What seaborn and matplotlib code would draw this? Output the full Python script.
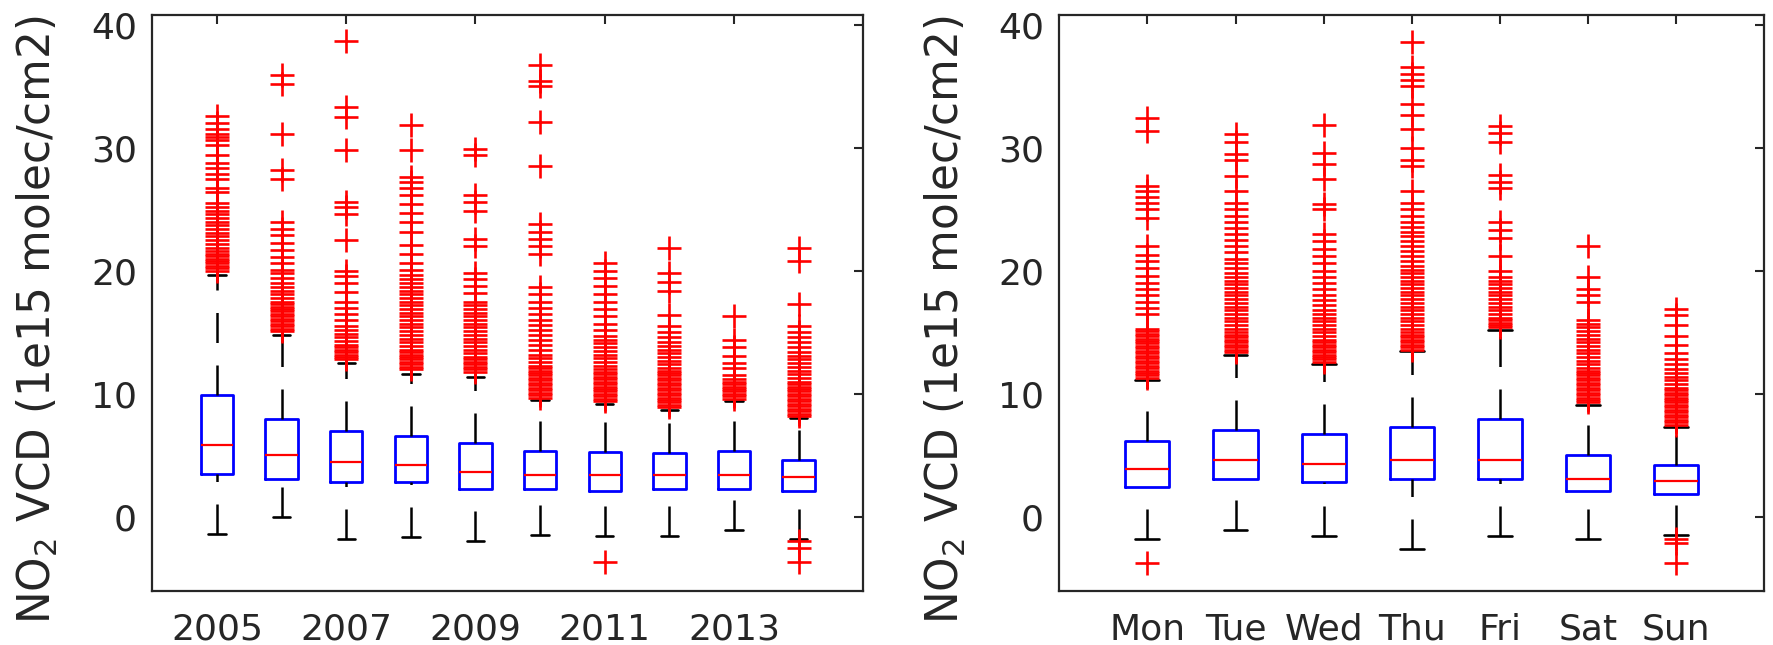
import numpy as np
import pandas as pd
import matplotlib
matplotlib.use("Agg")
import matplotlib.pyplot as plt
import seaborn as sns

# ---- yearly NO2 columns (1e15 molec/cm2) ----
years = [2005, 2006, 2007, 2008, 2009, 2010, 2011, 2012, 2013, 2014]
year_ticks = [2005, 2007, 2009, 2011, 2013]
yr_q1 = [3.45, 3.06, 2.80, 2.85, 2.30, 2.27, 2.10, 2.27, 2.27, 2.10]
yr_med = [5.82, 5.03, 4.46, 4.25, 3.65, 3.43, 3.43, 3.43, 3.43, 3.27]
yr_q3 = [9.92, 7.98, 6.98, 6.58, 5.98, 5.37, 5.27, 5.17, 5.37, 4.60]
yr_lo = [-1.40, 0.00, -1.80, -1.60, -1.97, -1.47, -1.57, -1.57, -1.07, -1.78]
yr_hi = [19.7, 14.8, 12.5, 11.6, 11.4, 9.5, 9.2, 8.7, 9.4, 8.0]
yr_out_2005 = [20.0, 20.2, 20.4, 20.6, 20.8, 21.0, 21.2, 21.4, 21.6, 21.9, 22.2, 22.5,
               22.8, 23.1, 23.4, 23.7, 24.0, 24.3, 24.6, 24.9, 25.2, 25.5, 26.4, 26.7,
               27.5, 27.9, 28.4, 28.8, 29.4, 30.2, 30.6, 30.9, 31.1, 31.5, 32.0, 32.6]
yr_out_2006 = [15.1, 15.3, 15.5, 15.7, 15.9, 16.1, 16.3, 16.5, 16.7, 16.9, 17.1, 17.3,
               17.5, 17.8, 18.1, 18.4, 18.7, 19.0, 19.4, 19.8, 20.1, 20.6, 21.1, 21.7,
               22.3, 22.9, 23.4, 24.0, 27.5, 28.2, 31.1, 35.2, 35.9]
yr_out_2007 = [12.8, 13.0, 13.2, 13.4, 13.6, 13.8, 14.0, 14.3, 14.6, 14.9, 15.2, 15.5,
               16.0, 16.5, 17.0, 17.5, 18.3, 19.0, 19.6, 20.0, 22.5, 24.6, 25.2, 25.6,
               29.8, 32.5, 33.3, 38.7]
yr_out_2008 = [12.0, 12.2, 12.4, 12.6, 12.8, 13.0, 13.2, 13.4, 13.6, 13.9, 14.2, 14.5,
               14.8, 15.1, 15.4, 15.7, 16.0, 16.3, 16.6, 16.9, 17.2, 17.5, 17.8, 18.1,
               18.4, 18.7, 19.0, 19.3, 19.7, 20.1, 20.6, 21.4, 22.1, 23.2, 24.0, 24.7,
               25.4, 26.2, 26.7, 27.2, 27.6, 29.8, 31.9]
yr_out_2009 = [11.8, 12.0, 12.2, 12.4, 12.6, 12.8, 13.0, 13.3, 13.6, 13.9, 14.2, 14.5,
               14.8, 15.1, 15.4, 15.7, 16.0, 16.3, 16.6, 16.9, 17.2, 17.5, 18.2, 18.8,
               19.3, 19.8, 22.0, 22.6, 24.9, 25.6, 26.2, 29.4, 29.9]
yr_out_2010 = [9.7, 9.9, 10.1, 10.3, 10.5, 10.7, 10.9, 11.1, 11.3, 11.5, 11.7, 11.9,
               12.1, 12.3, 12.6, 12.9, 13.2, 13.6, 14.0, 14.4, 14.8, 15.2, 15.6, 16.0,
               16.5, 17.0, 17.5, 18.1, 18.7, 21.4, 22.0, 22.6, 23.2, 23.8, 28.5, 32.1,
               35.0, 35.4, 36.7]
yr_out_2011 = [9.4, 9.6, 9.8, 10.0, 10.2, 10.4, 10.6, 10.8, 11.0, 11.2, 11.4, 11.6,
               11.8, 12.0, 12.3, 12.6, 12.9, 13.2, 13.5, 13.8, 14.1, 14.4, 14.7, 15.2,
               15.7, 16.3, 16.9, 17.5, 18.1, 18.8, 19.4, 20.0, 20.6, -3.7]
yr_out_2012 = [8.9, 9.1, 9.3, 9.5, 9.7, 9.9, 10.1, 10.3, 10.5, 10.7, 10.9, 11.1, 11.3,
               11.5, 11.7, 11.9, 12.1, 12.4, 12.7, 13.0, 13.3, 13.6, 13.9, 14.2, 14.6,
               15.0, 15.5, 16.4, 18.4, 19.1, 19.8, 21.9]
yr_out_2013 = [9.6, 9.8, 10.0, 10.2, 10.4, 10.6, 10.8, 11.0, 11.2, 11.5, 12.1, 12.5,
               13.1, 13.8, 14.4, 16.3]
yr_out_2014 = [8.2, 8.4, 8.6, 8.8, 9.0, 9.2, 9.4, 9.6, 9.8, 10.0, 10.2, 10.4, 10.6,
               10.8, 11.0, 11.3, 11.6, 11.9, 12.2, 12.5, 12.8, 13.1, 13.4, 13.8, 14.2,
               14.6, 15.0, 15.5, 17.3, 20.8, 21.9, -2.0, -2.5, -3.7]
yr_outliers = [yr_out_2005, yr_out_2006, yr_out_2007, yr_out_2008, yr_out_2009,
               yr_out_2010, yr_out_2011, yr_out_2012, yr_out_2013, yr_out_2014]

# ---- day-of-week NO2 columns ----
days = ["Mon", "Tue", "Wed", "Thu", "Fri", "Sat", "Sun"]
dw_q1 = [2.44, 3.10, 2.87, 3.10, 3.10, 2.10, 1.87]
dw_med = [3.87, 4.60, 4.27, 4.60, 4.60, 3.10, 2.92]
dw_q3 = [6.17, 7.10, 6.77, 7.33, 7.93, 5.00, 4.22]
dw_lo = [-1.80, -1.07, -1.57, -2.57, -1.57, -1.80, -1.46]
dw_hi = [11.1, 13.2, 12.4, 13.5, 15.2, 9.1, 7.3]
dw_out_mon = [11.3, 11.5, 11.7, 11.9, 12.1, 12.3, 12.5, 12.7, 12.9, 13.1, 13.3, 13.5,
              13.7, 13.9, 14.1, 14.3, 14.5, 14.7, 14.9, 15.1, 15.3, 16.5, 17.0, 17.5,
              18.0, 18.5, 19.0, 19.6, 20.2, 20.8, 21.3, 22.0, 24.3, 25.0, 25.5, 26.0,
              26.5, 26.9, 31.4, 32.4, -3.75]
dw_out_tue = [13.4, 13.6, 13.8, 14.0, 14.2, 14.4, 14.6, 14.8, 15.0, 15.3, 15.6, 15.9,
              16.2, 16.5, 16.8, 17.1, 17.4, 17.7, 18.0, 18.3, 18.6, 18.9, 19.2, 19.5,
              19.8, 20.2, 20.6, 21.0, 21.5, 22.0, 22.5, 23.0, 23.5, 24.0, 24.5, 25.0,
              25.5, 26.5, 27.7, 29.0, 29.5, 30.5, 31.1]
dw_out_wed = [12.6, 12.8, 13.0, 13.2, 13.4, 13.6, 13.8, 14.0, 14.2, 14.4, 14.7, 15.0,
              15.3, 15.6, 15.9, 16.2, 16.5, 16.8, 17.2, 17.6, 18.0, 18.5, 19.0, 19.5,
              20.0, 20.6, 21.2, 21.8, 22.4, 23.0, 25.0, 25.4, 27.5, 28.7, 29.6, 31.9]
dw_out_thu = [13.6, 13.8, 14.0, 14.2, 14.4, 14.6, 14.8, 15.0, 15.3, 15.6, 15.9, 16.2,
              16.5, 16.8, 17.1, 17.4, 17.7, 18.0, 18.3, 18.6, 18.9, 19.2, 19.5, 19.8,
              20.1, 20.4, 20.8, 21.2, 21.6, 22.0, 22.4, 22.8, 23.2, 23.6, 24.0, 24.5,
              25.0, 25.5, 26.5, 28.5, 29.0, 30.0, 31.5, 32.7, 33.6, 35.0, 35.5, 36.0,
              36.6, 38.6]
dw_out_fri = [15.4, 15.6, 15.8, 16.0, 16.2, 16.5, 16.8, 17.1, 17.4, 17.7, 18.0, 18.3,
              18.6, 18.9, 19.2, 19.5, 20.0, 21.2, 22.7, 23.3, 24.0, 26.7, 27.2, 27.8,
              30.5, 31.2, 31.8]
dw_out_sat = [9.3, 9.5, 9.7, 9.9, 10.1, 10.3, 10.5, 10.7, 10.9, 11.1, 11.3, 11.5, 11.7,
              11.9, 12.1, 12.4, 12.7, 13.0, 13.3, 13.6, 13.9, 14.2, 14.5, 14.8, 15.1,
              15.4, 15.7, 16.0, 17.5, 18.0, 18.5, 19.5, 22.0]
dw_out_sun = [7.5, 7.7, 7.9, 8.1, 8.3, 8.5, 8.7, 8.9, 9.1, 9.3, 9.5, 9.7, 9.9, 10.1,
              10.3, 10.5, 10.8, 11.1, 11.4, 11.7, 12.0, 12.4, 12.8, 13.3, 14.0, 14.7,
              15.6, 16.4, 16.9, -1.8, -2.1, -3.75]
dw_outliers = [dw_out_mon, dw_out_tue, dw_out_wed, dw_out_thu, dw_out_fri,
               dw_out_sat, dw_out_sun]

y_label = r"NO$_2$ VCD (1e15 molec/cm2)"

sns.set_style("white")
plt.rcParams["mathtext.default"] = "regular"
plt.rcParams["font.family"] = ["DejaVu Sans"]

INK = "#262626"
DPI = 100
fig = plt.figure(figsize=(17.74, 6.45), dpi=DPI)
ax_yr = fig.add_axes([0.0859, 0.0842, 0.4007, 0.8925])
ax_dw = fig.add_axes([0.5971, 0.0842, 0.3974, 0.8925])


def draw_panel(ax, labels, q1, med, q3, lo, hi, outliers, xlim):
    n = len(labels)
    pos = np.arange(1, n + 1)
    stats = [dict(q1=a, med=m, q3=b, whislo=l, whishi=h, fliers=[])
             for a, m, b, l, h in zip(q1, med, q3, lo, hi)]
    parts = ax.bxp(stats, positions=pos, widths=0.5, capwidths=0.27,
                   showfliers=False, patch_artist=False,
                   boxprops=dict(color="blue", linewidth=2.0),
                   medianprops=dict(color="red", linewidth=1.6),
                   whiskerprops=dict(color="black", linewidth=1.8,
                                     linestyle=(0, (12, 9))),
                   capprops=dict(color="black", linewidth=1.9))
    # lower whiskers: start the dash pattern at the cap end
    for k, w in enumerate(parts["whiskers"]):
        if k % 2 == 0:
            w.set_ydata(w.get_ydata()[::-1])
            w.set_xdata(w.get_xdata()[::-1])

    flier_df = pd.concat(
        [pd.DataFrame({"pos": p, "value": vals}) for p, vals in zip(pos, outliers)],
        ignore_index=True)
    sns.scatterplot(data=flier_df, x="pos", y="value", marker="+", color="red",
                    s=280, linewidth=1.9, ax=ax, legend=False, zorder=3)

    ax.set_xlim(*xlim)
    ax.set_ylim(-6.0, 40.8)
    ax.set_yticks([0, 10, 20, 30, 40])
    ax.set_xlabel("")
    ax.set_ylabel(y_label, fontsize=31.5, color=INK)
    ax.yaxis.set_label_coords(-0.13, 0.47)
    for s in ax.spines.values():
        s.set_visible(True)
        s.set_color(INK)
        s.set_linewidth(1.6)
    ax.tick_params(axis="both", direction="in", length=6.5, width=1.5,
                   colors=INK, labelsize=26, top=True, right=True)
    ax.tick_params(axis="y", pad=11)
    ax.tick_params(axis="x", pad=16)


draw_panel(ax_yr, years, yr_q1, yr_med, yr_q3, yr_lo, yr_hi, yr_outliers, (0, 11))
ax_yr.set_xticks([years.index(y) + 1 for y in year_ticks])
ax_yr.set_xticklabels([str(y) for y in year_ticks])

draw_panel(ax_dw, days, dw_q1, dw_med, dw_q3, dw_lo, dw_hi, dw_outliers, (0, 8))
ax_dw.set_xticks(np.arange(1, len(days) + 1))
ax_dw.set_xticklabels(days)

fig.savefig("out.png", dpi=DPI, facecolor="white")
